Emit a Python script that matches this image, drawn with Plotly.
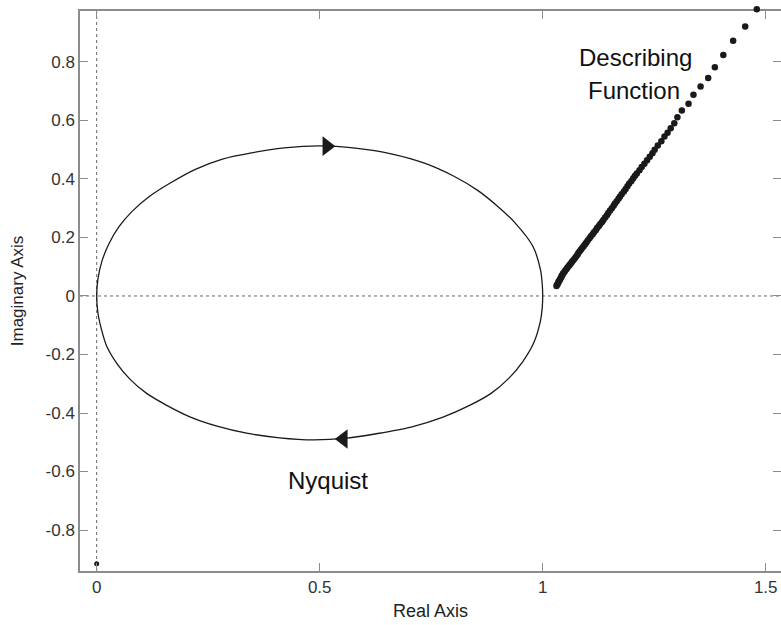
import plotly.graph_objects as go

# Nyquist locus of the linear part (real, imaginary), upper half then lower half
nyq_re = [0.000, 0.003, 0.012, 0.028, 0.050, 0.080, 0.118, 0.165, 0.220, 0.282,
          0.350, 0.420, 0.500, 0.580, 0.660, 0.735, 0.800, 0.855, 0.900, 0.938,
          0.978, 0.995, 0.999, 1.000,
          0.999, 0.995, 0.980, 0.955, 0.925, 0.885, 0.835, 0.775, 0.705, 0.630,
          0.560, 0.486, 0.410, 0.336, 0.270, 0.209, 0.155, 0.112, 0.075, 0.045,
          0.022, 0.011, 0.003, 0.000]
nyq_im = [0.000, 0.060, 0.120, 0.180, 0.237, 0.290, 0.340, 0.386, 0.432, 0.468,
          0.490, 0.506, 0.513, 0.505, 0.486, 0.454, 0.410, 0.360, 0.305, 0.250,
          0.170, 0.090, 0.040, 0.000,
          -0.040, -0.085, -0.160, -0.225, -0.280, -0.332, -0.375, -0.415, -0.448, -0.470,
          -0.486, -0.492, -0.485, -0.469, -0.445, -0.413, -0.372, -0.333, -0.285, -0.230,
          -0.170, -0.116, -0.060, 0.000]

# Direction arrows on the Nyquist locus
arrow_re = [0.516, 0.553]
arrow_im = [0.512, -0.489]
arrow_sym = ["triangle-right", "triangle-left"]

# Describing function points (-1/N)
df_re = [1.031, 1.032, 1.034, 1.035, 1.036, 1.038, 1.039, 1.041, 1.042, 1.043,
         1.045, 1.046, 1.049, 1.051, 1.054, 1.056, 1.059, 1.061, 1.064, 1.066,
         1.069, 1.072, 1.075, 1.078, 1.080, 1.083, 1.086, 1.089, 1.092, 1.095,
         1.098, 1.101, 1.105, 1.108, 1.112, 1.115, 1.119, 1.122, 1.126, 1.129,
         1.133, 1.136, 1.140, 1.144, 1.147, 1.151, 1.155, 1.159, 1.162, 1.166,
         1.170, 1.173, 1.177, 1.182, 1.186, 1.190, 1.194, 1.199, 1.203, 1.207,
         1.211, 1.217, 1.222, 1.228, 1.234, 1.240, 1.246, 1.251, 1.258, 1.266,
         1.273, 1.280, 1.287, 1.295, 1.302, 1.312, 1.327, 1.338, 1.354, 1.371,
         1.386, 1.405, 1.427, 1.454, 1.480]
df_im = [0.034, 0.038, 0.042, 0.046, 0.050, 0.054, 0.058, 0.062, 0.066, 0.070,
         0.074, 0.078, 0.083, 0.088, 0.093, 0.098, 0.103, 0.108, 0.113, 0.118,
         0.123, 0.129, 0.135, 0.141, 0.147, 0.153, 0.159, 0.165, 0.171, 0.177,
         0.183, 0.190, 0.197, 0.204, 0.211, 0.218, 0.225, 0.232, 0.239, 0.246,
         0.253, 0.260, 0.268, 0.276, 0.284, 0.292, 0.300, 0.308, 0.316, 0.324,
         0.332, 0.339, 0.348, 0.357, 0.366, 0.375, 0.384, 0.393, 0.402, 0.411,
         0.419, 0.430, 0.441, 0.452, 0.464, 0.476, 0.488, 0.500, 0.514, 0.529,
         0.545, 0.558, 0.573, 0.590, 0.611, 0.634, 0.657, 0.688, 0.716, 0.745,
         0.782, 0.824, 0.872, 0.921, 0.980]

# Isolated point on the imaginary axis
pt_re = [0.0]
pt_im = [-0.915]

x_ticks = [0, 0.5, 1, 1.5]
x_ticktext = ["0", "0.5", "1", "1.5"]
y_ticks = [-0.8, -0.6, -0.4, -0.2, 0, 0.2, 0.4, 0.6, 0.8]
y_ticktext = ["-0.8", "-0.6", "-0.4", "-0.2", "0", "0.2", "0.4", "0.6", "0.8"]

x_range = [-0.0374, 1.5343]
y_range = [-0.940, 0.974]

# geometry: the axes box is 560 px tall; a transparent companion subplot
# spans 11 px more above it so the last describing-function point is not culled
W, H = 781, 625
M_L, M_B, M_T = 80, 54, 0
area_h = H - M_B - M_T
box_h = 560
box_top = box_h / area_h
y3_top = y_range[0] + (y_range[1] - y_range[0]) * area_h / box_h

AX = "#8c8c8c"
INK = "#1a1a1a"
LABEL_FONT = "Liberation Sans, Arial, sans-serif"

fig = go.Figure()

fig.add_trace(go.Scatter(x=nyq_re, y=nyq_im, mode="lines",
                         line=dict(color=INK, width=1.3, shape="spline", smoothing=0.8),
                         hoverinfo="skip", showlegend=False))
fig.add_trace(go.Scatter(x=arrow_re, y=arrow_im, mode="markers",
                         marker=dict(symbol=arrow_sym, size=17, color=INK),
                         hoverinfo="skip", showlegend=False))
fig.add_trace(go.Scatter(x=pt_re, y=pt_im, mode="markers",
                         marker=dict(size=5, color=INK),
                         hoverinfo="skip", showlegend=False))
# invisible trace to carry the right-hand tick axis
fig.add_trace(go.Scatter(x=[x_range[0]], y=[0], yaxis="y2", mode="markers",
                         marker=dict(opacity=0), hoverinfo="skip", showlegend=False))
fig.add_trace(go.Scatter(x=df_re, y=df_im, xaxis="x3", yaxis="y3", mode="markers",
                         marker=dict(size=6.5, color=INK),
                         hoverinfo="skip", showlegend=False))

# dotted reference axes through the origin
fig.add_shape(type="line", xref="x", yref="y domain", x0=0, x1=0, y0=0, y1=1,
              line=dict(color="#666666", width=1, dash="dot"), layer="below")
fig.add_shape(type="line", xref="x domain", yref="y", x0=0, x1=1, y0=0, y1=0,
              line=dict(color="#666666", width=1, dash="dot"), layer="below")

NOTE = dict(family=LABEL_FONT, size=24, color="#111111")
fig.add_annotation(x=1.207, y=0.814, text="Describing", showarrow=False, font=NOTE)
fig.add_annotation(x=1.205, y=0.701, text="Function", showarrow=False, font=NOTE)
fig.add_annotation(x=0.519, y=-0.629, text="Nyquist", showarrow=False, font=NOTE)

fig.update_layout(
    width=W, height=H,
    margin=dict(l=M_L, r=0, t=M_T, b=M_B),
    paper_bgcolor="white", plot_bgcolor="rgba(0,0,0,0)",
    font=dict(family=LABEL_FONT, size=17, color="#333333"),
    xaxis=dict(range=x_range, tickvals=x_ticks, ticktext=x_ticktext,
               showgrid=False, zeroline=False, showline=True, linecolor=AX,
               linewidth=1.5, mirror="ticks", ticks="inside", ticklen=8,
               tickcolor=AX, tickfont=dict(size=17),
               title=dict(text="Real Axis", font=dict(size=18, color="#222222"), standoff=8)),
    yaxis=dict(range=y_range, domain=[0, box_top], tickvals=y_ticks, ticktext=y_ticktext,
               showgrid=False, zeroline=False, showline=True, linecolor=AX,
               linewidth=1.5, mirror=False, ticks="inside", ticklen=8,
               tickcolor=AX, tickfont=dict(size=17),
               title=dict(text="Imaginary Axis", font=dict(size=17, color="#222222"), standoff=18)),
    yaxis2=dict(range=y_range, tickvals=y_ticks, overlaying="y", side="right",
                showgrid=False, zeroline=False, showline=False, showticklabels=False,
                ticks="inside", ticklen=8, tickcolor=AX),
    xaxis3=dict(range=x_range, domain=[0, 1], anchor="y3", visible=False),
    yaxis3=dict(range=[y_range[0], y3_top], domain=[0, 1], anchor="x3", visible=False),
)

fig.write_html("out.html")
